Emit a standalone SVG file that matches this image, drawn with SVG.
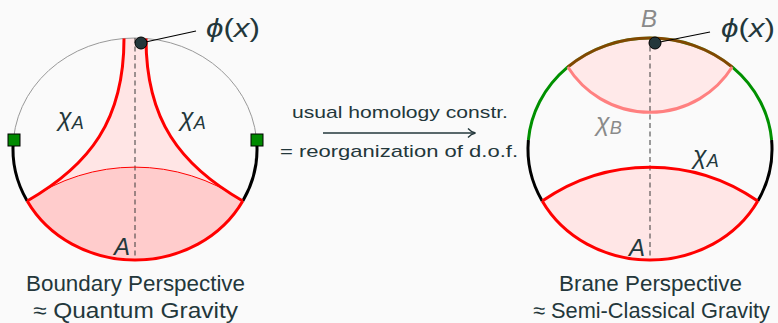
<svg xmlns="http://www.w3.org/2000/svg" width="778" height="323" viewBox="0 0 778 323">
<defs>
<style>
.t{font-family:"Liberation Sans","DejaVu Sans",sans-serif;fill:#23373b}
.m{font-family:"Liberation Sans","DejaVu Sans",sans-serif;font-style:italic;fill:#23373b}
.u{font-style:normal}
.g{fill:#8a8a8a}
.red{fill:none;stroke:#ff0000;stroke-width:3}
.blk{fill:none;stroke:#000;stroke-width:3}
.grn{fill:none;stroke:#009000;stroke-width:3}
.dash{fill:none;stroke:#3a3a3a;stroke-width:1;stroke-dasharray:5 3.5}
.ptr{fill:none;stroke:#000;stroke-width:1.2}
.dot{fill:#23373b;stroke:#000;stroke-width:1}
.sq{fill:#008a00;stroke:#000;stroke-width:1}
</style>
</defs>
<rect width="778" height="323" fill="#fafafa"/>

<g id="boundary">
  <path d="M124,38.45 C124,120 90,165 27.2,201 A122 111 0 0 0 242.8,201 C180,165 146,120 146,38.45 A122 111 0 0 0 124,38.45 Z" fill="#ffe5e5"/>
  <path d="M27.2,201 A188.5 188.5 0 0 1 242.8,201 A122 111 0 0 1 27.2,201 Z" fill="#ffcccc"/>
  <ellipse cx="135" cy="149" rx="122" ry="111" fill="none" stroke="#999" stroke-width="1"/>
  <line x1="135" y1="38" x2="135" y2="260" class="dash"/>
  <path d="M13.4,140 A122 111 0 0 0 27.2,201" class="blk"/>
  <path d="M256.6,140 A122 111 0 0 1 242.8,201" class="blk"/>
  <path d="M27.2,201 A188.5 188.5 0 0 1 242.8,201" fill="none" stroke="#ff0000" stroke-width="1"/>
  <path d="M124,38.45 C124,120 90,165 27.2,201" class="red"/>
  <path d="M146,38.45 C146,120 180,165 242.8,201" class="red"/>
  <path d="M27.2,201 A122 111 0 0 0 242.8,201" class="red"/>
  <rect x="8" y="134" width="12" height="12" class="sq"/>
  <rect x="251" y="134" width="12" height="12" class="sq"/>
  <line x1="141" y1="43" x2="196" y2="31" class="ptr"/>
  <circle cx="141" cy="43" r="6" class="dot"/>
  <text x="206" y="37" class="m" font-size="26" textLength="54" lengthAdjust="spacingAndGlyphs">ϕ<tspan class="u">(</tspan>x<tspan class="u">)</tspan></text>
  <text x="58" y="126" class="m" font-size="25">χ<tspan font-size="18" dy="3">A</tspan></text>
  <text x="180" y="126" class="m" font-size="25">χ<tspan font-size="18" dy="3">A</tspan></text>
  <text x="114" y="255" class="m" font-size="24">A</text>
</g>

<g id="brane">
  <path d="M542.2,201 A188.5 188.5 0 0 1 757.8,201 A122 111 0 0 1 542.2,201 Z" fill="#ffe6e6"/>
  <path d="M567.8,67 A97.2 97.2 0 0 0 732.2,67 A122 111 0 0 0 567.8,67 Z" fill="#ffe9e9"/>
  <line x1="650" y1="38" x2="650" y2="260" class="dash"/>
  <path d="M528.4,140 A122 111 0 0 1 771.6,140" class="grn"/>
  <path d="M567.8,67 A122 111 0 0 1 732.2,67" fill="none" stroke="#ff0000" stroke-width="3" stroke-opacity="0.5"/>
  <path d="M528.4,140 A122 111 0 0 0 542.2,201" class="blk"/>
  <path d="M771.6,140 A122 111 0 0 1 757.8,201" class="blk"/>
  <path d="M567.8,67 A97.2 97.2 0 0 0 732.2,67" fill="none" stroke="#ff8080" stroke-width="3"/>
  <path d="M542.2,201 A188.5 188.5 0 0 1 757.8,201" class="red"/>
  <path d="M542.2,201 A122 111 0 0 0 757.8,201" class="red"/>
  <line x1="655" y1="43" x2="710" y2="32" class="ptr"/>
  <circle cx="655" cy="43" r="6" class="dot"/>
  <text x="721" y="37" class="m" font-size="26" textLength="54" lengthAdjust="spacingAndGlyphs">ϕ<tspan class="u">(</tspan>x<tspan class="u">)</tspan></text>
  <text x="641" y="27" class="m g" font-size="24">B</text>
  <text x="596" y="131" class="m g" font-size="25">χ<tspan font-size="18" dy="3">B</tspan></text>
  <text x="693" y="164" class="m" font-size="25">χ<tspan font-size="18" dy="3">A</tspan></text>
  <text x="629" y="256" class="m" font-size="24">A</text>
</g>

<g id="connectors">
  <line x1="323" y1="133" x2="474" y2="133" stroke="#23373b" stroke-width="1.4"/>
  <path d="M468,128.5 Q471,132 475.5,133 Q471,134 468,137.5" fill="none" stroke="#23373b" stroke-width="1.3"/>
  <text x="292" y="118" class="t" font-size="17" textLength="216" lengthAdjust="spacingAndGlyphs">usual homology constr.</text>
  <text x="280" y="157" class="t" font-size="17" textLength="238" lengthAdjust="spacingAndGlyphs">= reorganization of d.o.f.</text>
</g>

<g id="captions">
  <text x="26" y="291" class="t" font-size="22" textLength="219" lengthAdjust="spacingAndGlyphs">Boundary Perspective</text>
  <text x="33" y="318" class="t" font-size="22" textLength="205" lengthAdjust="spacingAndGlyphs">≈ Quantum Gravity</text>
  <text x="559" y="291" class="t" font-size="22" textLength="183" lengthAdjust="spacingAndGlyphs">Brane Perspective</text>
  <text x="533" y="318" class="t" font-size="22" textLength="237" lengthAdjust="spacingAndGlyphs">≈ Semi-Classical Gravity</text>
</g>
</svg>
